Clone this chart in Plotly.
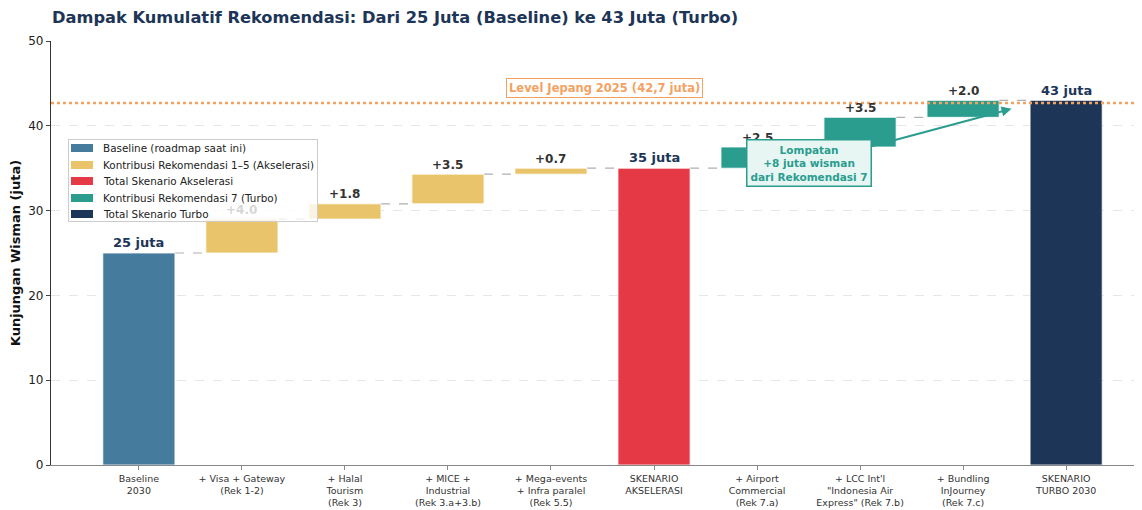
import plotly.graph_objects as go

categories = [
    "Baseline<br>2030",
    "+ Visa + Gateway<br>(Rek 1-2)",
    "+ Halal<br>Tourism<br>(Rek 3)",
    "+ MICE +<br>Industrial<br>(Rek 3.a+3.b)",
    "+ Mega-events<br>+ Infra paralel<br>(Rek 5.5)",
    "SKENARIO<br>AKSELERASI",
    "+ Airport<br>Commercial<br>(Rek 7.a)",
    "+ LCC Int'l<br>\"Indonesia Air<br>Express\" (Rek 7.b)",
    "+ Bundling<br>InJourney<br>(Rek 7.c)",
    "SKENARIO<br>TURBO 2030",
]
steps = [25.0, 4.0, 1.8, 3.5, 0.7, 0.0, 2.5, 3.5, 2.0, 0.0]
kinds = ["baseline", "aksel", "aksel", "aksel", "aksel", "total_aksel",
         "turbo", "turbo", "turbo", "total_turbo"]
japan_level = 42.7

legend_order = ["baseline", "aksel", "total_aksel", "turbo", "total_turbo"]
colors = {
    "baseline": "#457b9d",
    "aksel": "#e9c46a",
    "total_aksel": "#e63946",
    "turbo": "#2a9d8f",
    "total_turbo": "#1d3557",
}
legend_names = {
    "baseline": "Baseline (roadmap saat ini)",
    "aksel": "Kontribusi Rekomendasi 1–5 (Akselerasi)",
    "total_aksel": "Total Skenario Akselerasi",
    "turbo": "Kontribusi Rekomendasi 7 (Turbo)",
    "total_turbo": "Total Skenario Turbo",
}

# compute bases / heights
bases, heights, tops = [], [], []
running = 0.0
for s, k in zip(steps, kinds):
    if k.startswith("total"):
        bases.append(0.0)
        heights.append(running)
        tops.append(running)
    elif k == "baseline":
        bases.append(0.0)
        heights.append(s)
        running = s
        tops.append(running)
    else:
        bases.append(running)
        heights.append(s)
        running += s
        tops.append(running)

# figure geometry (page body has 8px margin)
FW, FH = 1134, 502
ML, MR, MT, MB = 43, 2, 33, 45
PW = FW - ML - MR
PH = FH - MT - MB
OFF = 8


def px(sx):
    return (sx - OFF - ML) / PW


def py(sy):
    return (FH - MB + OFF - sy) / PH


fig = go.Figure()
W = 0.7
for k in legend_order:
    idx = [i for i, kk in enumerate(kinds) if kk == k]
    fig.add_trace(go.Bar(
        x=idx, y=[heights[i] for i in idx], base=[bases[i] for i in idx],
        width=W, name=legend_names[k], showlegend=False,
        marker=dict(color=colors[k], line=dict(color="white", width=0.8)),
        hoverinfo="skip",
    ))

shapes = []
for i in range(len(steps) - 1):
    shapes.append(dict(type="line", xref="x", yref="y",
                       x0=i + W / 2, x1=i + 1 - W / 2, y0=tops[i], y1=tops[i],
                       line=dict(color="#b0b0b0", width=1.2, dash="dash"), layer="below"))
shapes.append(dict(type="line", xref="paper", yref="y", x0=0, x1=1,
                   y0=japan_level, y1=japan_level,
                   line=dict(color="#f4a261", width=2.5, dash="dot")))

annotations = []
for i, k in enumerate(kinds):
    if k in ("baseline", "total_aksel", "total_turbo"):
        txt = f"{tops[i]:.0f} juta"
        annotations.append(dict(x=i, y=tops[i] + 0.1, text=f"<b>{txt}</b>", showarrow=False,
                                yanchor="bottom", font=dict(size=13, color="#1d3557")))
    else:
        annotations.append(dict(x=i, y=tops[i] + 0.05, text=f"<b>+{steps[i]:.1f}</b>", showarrow=False,
                                yanchor="bottom", font=dict(size=12, color="#333333")))

annotations.append(dict(x=4.52, y=44.5, text="<b>Level Jepang 2025 (42,7 juta)</b>", showarrow=False,
                        font=dict(size=11.5, color="#f4a261"), bgcolor="white",
                        bordercolor="#f4a261", borderwidth=1, borderpad=2))
annotations.append(dict(x=8.47, y=42.0, ax=6.5, ay=35.6, axref="x", ayref="y", xref="x", yref="y",
                        text="<b>Lompatan<br>+8 juta wisman<br>dari Rekomendasi 7</b>",
                        showarrow=True, arrowhead=2, arrowsize=1, arrowwidth=2, arrowcolor="#2a9d8f",
                        font=dict(size=10.5, color="#2a9d8f"), bgcolor="#e8f6f3",
                        bordercolor="#2a9d8f", borderwidth=1.5, borderpad=3))

# custom legend (drawn as annotations so it overlays bar labels)
box_l, box_r, box_t, box_b = 68, 318, 139, 222
annotations.append(dict(xref="paper", yref="paper", x=px((box_l + box_r) / 2), y=py((box_t + box_b) / 2),
                        xanchor="center", yanchor="middle",
                        text=" ", showarrow=False, width=box_r - box_l - 2, height=box_b - box_t - 2,
                        bgcolor="rgba(255,255,255,0.8)", bordercolor="#cccccc", borderwidth=1,
                        borderpad=0))
row_y = [148, 164.5, 181, 197.5, 213.5]
for k, ry in zip(legend_order, row_y):
    annotations.append(dict(xref="paper", yref="paper", x=px(82), y=py(ry), text=" ",
                            xanchor="center", yanchor="middle",
                            showarrow=False, width=22, height=8, bgcolor=colors[k],
                            borderpad=0, borderwidth=0, font=dict(size=6)))
    annotations.append(dict(xref="paper", yref="paper", x=px(101), y=py(ry), xanchor="left",
                            yanchor="middle", text=legend_names[k], showarrow=False,
                            font=dict(size=10.4, color="#222")))

fig.update_layout(
    width=FW, height=FH,
    margin=dict(l=ML, r=MR, t=MT, b=MB),
    plot_bgcolor="white", paper_bgcolor="white",
    font=dict(family="DejaVu Sans", color="#222"),
    title=dict(text="<b>Dampak Kumulatif Rekomendasi: Dari 25 Juta (Baseline) ke 43 Juta (Turbo)</b>",
               x=44 / FW, xanchor="left", xref="container",
               y=1 - 9 / FH, yanchor="middle", yref="container",
               font=dict(size=16.25, color="#1d3557")),
    barmode="overlay",
    showlegend=False,
    shapes=shapes,
    annotations=annotations,
)
fig.update_xaxes(range=[-0.853, 9.717], tickvals=list(range(len(categories))), ticktext=categories,
                 tickfont=dict(size=9.5, color="#333"), showline=True, linecolor="#888", linewidth=1.2,
                 ticks="outside", ticklen=4, tickcolor="#888", showgrid=False, zeroline=False,
                 automargin=False)
fig.update_yaxes(range=[0, 50], tickvals=[0, 10, 20, 30, 40, 50], tickfont=dict(size=12, color="#222"),
                 title=dict(text="<b>Kunjungan Wisman (juta)</b>", font=dict(size=13, color="#111"),
                            standoff=12),
                 showline=True, linecolor="#333", linewidth=1.2, ticks="outside", ticklen=4,
                 showgrid=True, gridcolor="#e6e6e6", griddash="dash", zeroline=False,
                 automargin=False)

fig.write_html("out.html")
